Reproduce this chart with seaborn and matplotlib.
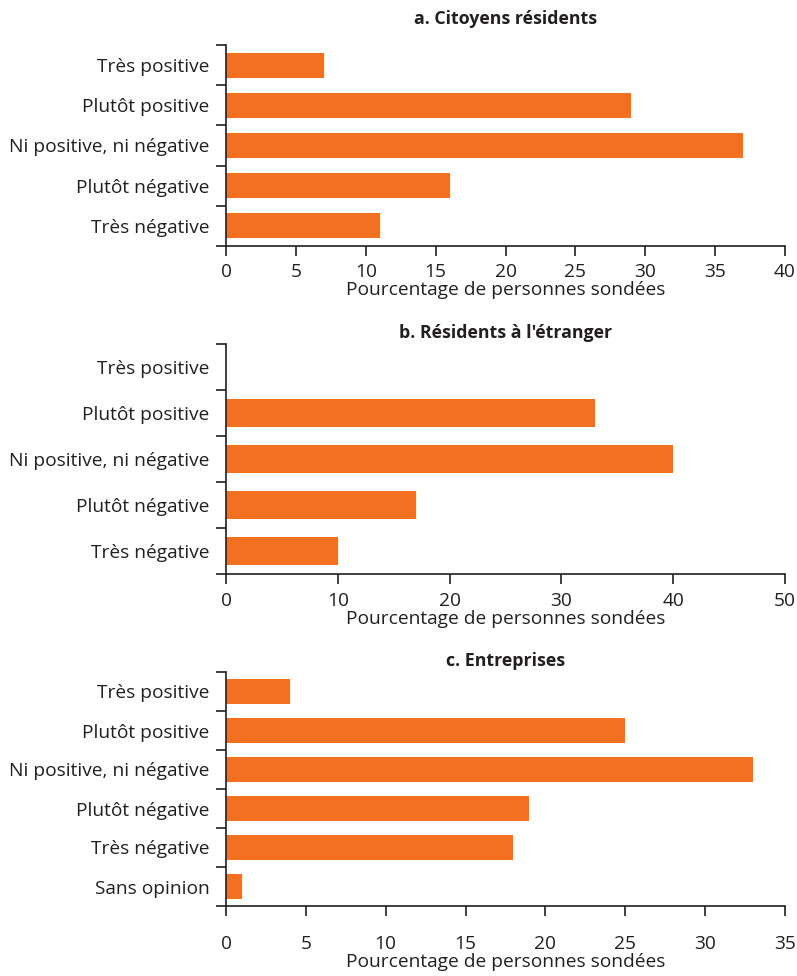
import matplotlib
matplotlib.use("Agg")
import matplotlib.pyplot as plt
import seaborn as sns
import pandas as pd
import numpy as np

# ---- data ----
cats_ab = ["Très positive", "Plutôt positive", "Ni positive, ni négative",
           "Plutôt négative", "Très négative"]
cats_c = cats_ab + ["Sans opinion"]
vals_a = [7, 29, 37, 16, 11]
vals_b = [0, 33, 40, 17, 10]
vals_c = [4, 25, 33, 19, 18, 1]
titles = ["a. Citoyens résidents", "b. Résidents à l'étranger", "c. Entreprises"]
xmax = [40, 50, 35]
xstep = [5, 10, 5]
xlabel = "Pourcentage de personnes sondées"

sns.set_theme(style="white")
plt.rcParams["font.family"] = ["Open Sans", "DejaVu Sans"]
TXT = "#231F20"
BAR = "#F37021"
FS = 13.8

fig = plt.figure(figsize=(7.97, 9.76), dpi=100)
W, H = 797, 976
L, R = 226, 785
boxes = [(45, 246), (344, 574), (672, 906)]
tickpads = [5, 6, 14]
titlepads = [15, 4, 4]

panels = [(cats_ab, vals_a), (cats_ab, vals_b), (cats_c, vals_c)]
for i, ((cats, vals), (top, bot)) in enumerate(zip(panels, boxes)):
    ax = fig.add_axes([L / W, 1 - bot / H, (R - L) / W, (bot - top) / H])
    df = pd.DataFrame({"cat": cats, "val": vals})
    sns.barplot(data=df, x="val", y="cat", order=cats, orient="h",
                color=BAR, saturation=1, width=0.62, linewidth=0, ax=ax)
    n = len(cats)
    ax.set_ylim(n - 0.5, -0.5)
    ax.set_xlim(0, xmax[i])
    ax.set_xticks(np.arange(0, xmax[i] + 0.1, xstep[i]))
    ax.set_yticks(range(n))
    ax.set_yticklabels(cats)
    ax.set_yticks(np.arange(-0.5, n, 1.0), minor=True)
    ax.tick_params(axis="y", which="major", length=0, pad=12,
                   labelsize=FS, labelcolor=TXT)
    ax.tick_params(axis="y", which="minor", length=7, width=1.2,
                   color=TXT, direction="out", left=True)
    ax.tick_params(axis="x", which="major", length=7, width=1.2,
                   color=TXT, direction="out", bottom=True,
                   pad=tickpads[i], labelsize=FS, labelcolor=TXT)
    for s in ["top", "right"]:
        ax.spines[s].set_visible(False)
    for s in ["left", "bottom"]:
        ax.spines[s].set_color(TXT)
        ax.spines[s].set_linewidth(1.2)
    ax.set_ylabel("")
    ax.set_xlabel(xlabel, fontsize=FS, color=TXT, labelpad=0)
    ax.set_title(titles[i], fontsize=12.8, fontweight="bold", color=TXT,
                 pad=titlepads[i])

fig.savefig("out.png", dpi=100)
